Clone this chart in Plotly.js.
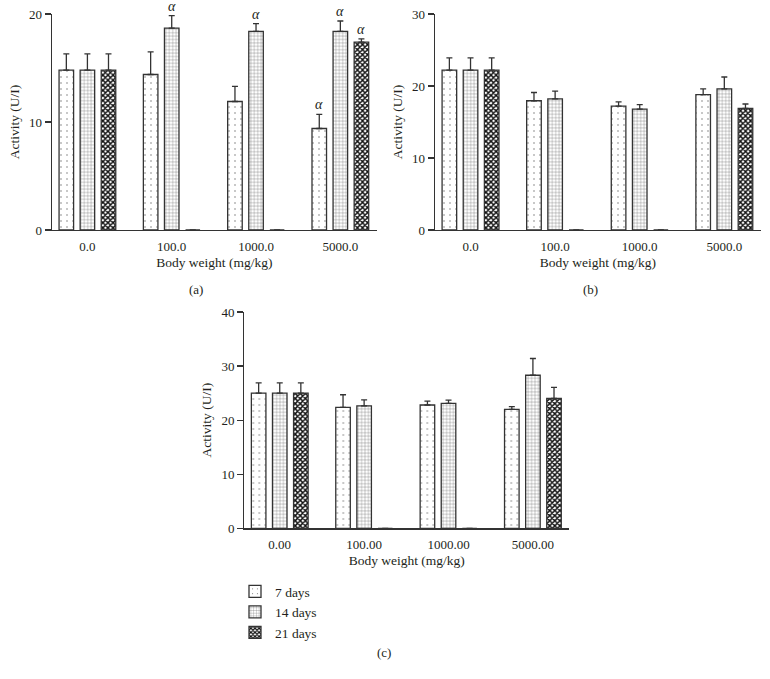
<!DOCTYPE html>
<html><head><meta charset="utf-8">
<script src="https://cdn.plot.ly/plotly-3.0.1.min.js"></script>
<style>html,body{margin:0;padding:0;background:#fff}</style>
</head><body><div id="chart" style="width:770px;height:679px"></div>
<script>
// ---- data ----
const catsAB = ["0.0", "100.0", "1000.0", "5000.0"];
const catsC = ["0.00", "100.00", "1000.00", "5000.00"];
const seriesNames = ["7 days", "14 days", "21 days"];

const a7 = [14.8, 14.4, 11.9, 9.4];
const a7err = [1.5, 2.1, 1.4, 1.3];
const a14 = [14.8, 18.7, 18.4, 18.4];
const a14err = [1.5, 1.15, 0.7, 0.95];
const a21 = [14.8, 0, 0, 17.4];
const a21err = [1.5, null, null, 0.3];
const a7sig = [false, false, false, true];
const a14sig = [false, true, true, true];
const a21sig = [false, false, false, true];

const b7 = [22.2, 17.95, 17.2, 18.8];
const b7err = [1.7, 1.15, 0.6, 0.8];
const b14 = [22.2, 18.2, 16.8, 19.6];
const b14err = [1.7, 1.1, 0.6, 1.65];
const b21 = [22.2, 0, 0, 16.9];
const b21err = [1.7, null, null, 0.6];

const c7 = [25.0, 22.35, 22.8, 22.0];
const c7err = [1.9, 2.35, 0.7, 0.5];
const c14 = [25.0, 22.65, 23.1, 28.3];
const c14err = [1.9, 1.1, 0.6, 3.1];
const c21 = [25.0, 0, 0, 24.0];
const c21err = [1.9, null, null, 2.05];

const panelLabels = ["(a)", "(b)", "(c)"];
const xTitle = "Body weight (mg/kg)";
const yTitle = "Activity (U/I)";

// ---- styles ----
const serif = "Liberation Serif, DejaVu Serif, serif";
const ink = "#231f20";
const lineCol = "#333";
const patterns = [
  {shape: ".", fgcolor: "#666", bgcolor: "#fff", size: 6, solidity: 0.04},
  {shape: "+", fgcolor: "#777", bgcolor: "#fff", size: 3.4, solidity: 0.22},
  {shape: "x", fgcolor: "#111", bgcolor: "#fff", size: 3.6, solidity: 0.62}
];

function bar(cats, vals, errs, idx, xa, ya, showleg) {
  return {
    type: "bar", x: cats, y: vals, name: seriesNames[idx],
    xaxis: xa, yaxis: ya, showlegend: showleg,
    marker: {color: "#fff", pattern: patterns[idx], line: {color: lineCol, width: 1.3}},
    error_y: {type: "data", symmetric: false, array: errs,
      arrayminus: errs.map(e => 0), color: lineCol, thickness: 1.3, width: 3},
    hoverinfo: "skip"
  };
}

const data = [
  bar(catsAB, a7, a7err, 0, "x", "y", false),
  bar(catsAB, a14, a14err, 1, "x", "y", false),
  bar(catsAB, a21, a21err, 2, "x", "y", false),
  bar(catsAB, b7, b7err, 0, "x2", "y2", false),
  bar(catsAB, b14, b14err, 1, "x2", "y2", false),
  bar(catsAB, b21, b21err, 2, "x2", "y2", false),
  bar(catsC, c7, c7err, 0, "x3", "y3", true),
  bar(catsC, c14, c14err, 1, "x3", "y3", true),
  bar(catsC, c21, c21err, 2, "x3", "y3", true)
];

const slot = 0.25; // (1 - bargap) / 3
const annotations = [];
[[a7, a7err, a7sig], [a14, a14err, a14sig], [a21, a21err, a21sig]].forEach((s, si) => {
  s[0].forEach((v, i) => {
    if (s[2][i]) {
      annotations.push({xref: "x", yref: "y", x: i + (si - 1) * slot, y: v + s[1][i],
        yanchor: "bottom", yshift: 0, showarrow: false, text: "<i>α</i>",
        font: {family: serif, size: 14, color: ink}});
    }
  });
});
const labelPos = [[196, 289], [590, 289], [384, 652]];
panelLabels.forEach((t, i) => annotations.push({
  xref: "paper", yref: "paper", x: labelPos[i][0] / 770, y: 1 - labelPos[i][1] / 679,
  xanchor: "center", yanchor: "middle", showarrow: false, text: t,
  font: {family: serif, size: 13, color: ink}
}));

function xax(dom, anchor) {
  return {domain: dom, anchor: anchor, type: "category", range: [-0.42, 3.43],
    showline: true, linecolor: lineCol, linewidth: 1.3, ticks: "", showgrid: false,
    zeroline: false, ticklabelstandoff: 4,
    tickfont: {family: serif, size: 13, color: ink},
    title: {text: xTitle, font: {family: serif, size: 13.5, color: ink}, standoff: 4}};
}
function yax(dom, anchor, max) {
  return {domain: dom, anchor: anchor, range: [0, max], dtick: 10,
    showline: true, linecolor: lineCol, linewidth: 1.3, ticks: "outside", ticklen: 6,
    tickwidth: 1.3, tickcolor: lineCol, showgrid: false, zeroline: false,
    tickfont: {family: serif, size: 13, color: ink},
    title: {text: yTitle, font: {family: serif, size: 13.5, color: ink}, standoff: 6}};
}

const H = 679, W = 770;
const layout = {
  width: W, height: H, margin: {l: 0, r: 0, t: 0, b: 0},
  paper_bgcolor: "#fff", plot_bgcolor: "#fff",
  barmode: "group", bargap: 0.25, bargroupgap: 0.31,
  xaxis: xax([52 / W, 376.6 / W], "y"),
  yaxis: yax([1 - 230 / H, 1 - 14 / H], "x", 20),
  xaxis2: xax([435 / W, 760.7 / W], "y2"),
  yaxis2: yax([1 - 230 / H, 1 - 14 / H], "x2", 30),
  xaxis3: xax([244.3 / W, 569.2 / W], "y3"),
  yaxis3: yax([1 - 528.3 / H, 1 - 312 / H], "x3", 40),
  legend: {x: 235 / W, y: 1 - 576 / H, xanchor: "left", yanchor: "top",
    font: {family: serif, size: 13.5, color: ink}, bgcolor: "rgba(0,0,0,0)",
    tracegroupgap: 0},
  annotations: annotations,
  showlegend: true
};

Plotly.newPlot("chart", data, layout, {displayModeBar: false, staticPlot: true});
</script></body></html>
